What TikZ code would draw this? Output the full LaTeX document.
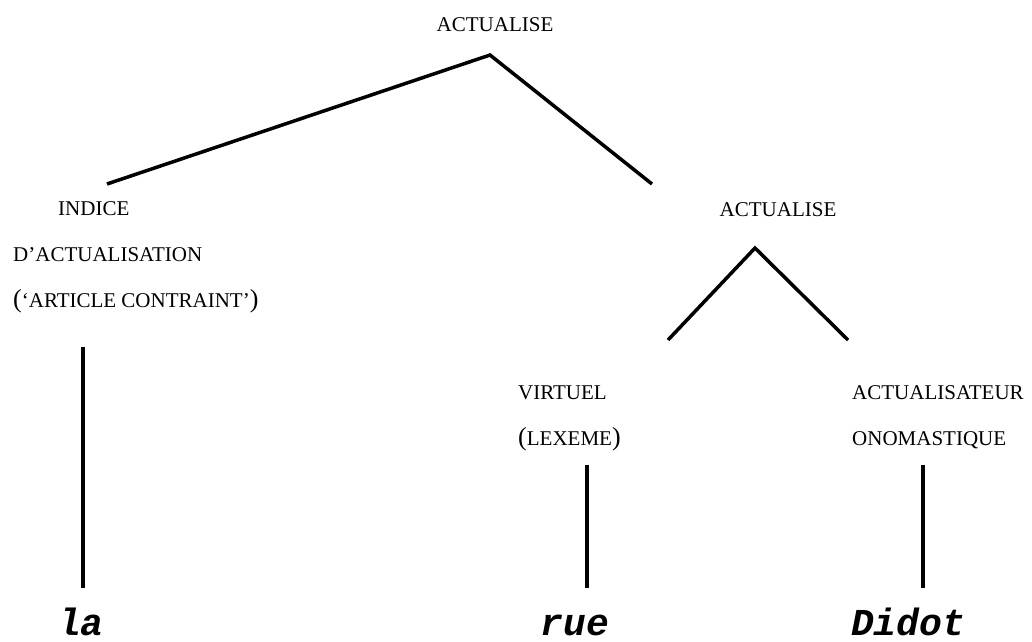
\documentclass[tikz,border=0pt]{standalone}
\usepackage{fontspec}
\setmainfont{Liberation Serif}
\setmonofont{Liberation Mono}
% parentheses set larger than the small-capital letters
\newcommand\lpar{{\fontsize{26}{30}\selectfont(}}
\newcommand\rpar{{\fontsize{26}{30}\selectfont)}}
\begin{document}
\begin{tikzpicture}[x=1pt,y=-1pt,
  lab/.style={inner sep=0pt, font=\fontsize{21}{25}\selectfont},
  word/.style={inner sep=0pt, font=\fontsize{38}{44}\selectfont\ttfamily\bfseries\itshape},
  edge/.style={line width=3.5pt, line join=miter}]
\useasboundingbox (0,0) rectangle (1032,641);

% labels
\node[lab, anchor=base] (root) at (495,31) {ACTUALISE};
\node[lab, anchor=base west] (ind1) at (58,215) {INDICE};
\node[lab, anchor=base west] (ind2) at (13,261) {D’ACTUALISATION};
\node[lab, anchor=base west] (ind3) at (13,307) {\lpar‘ARTICLE CONTRAINT’\rpar};
\node[lab, anchor=base] (act) at (778,216) {ACTUALISE};
\node[lab, anchor=base west] (vir1) at (518,399) {VIRTUEL};
\node[lab, anchor=base west] (vir2) at (518,445) {\lpar LEXEME\rpar};
\node[lab, anchor=base west] (ono1) at (852,399) {ACTUALISATEUR};
\node[lab, anchor=base west] (ono2) at (852,445) {ONOMASTIQUE};

% words of the phrase
\node[word, anchor=base] (la) at (81,635) {la};
\node[word, anchor=base] (rue) at (575,635) {rue};
\node[word, anchor=base] (didot) at (908,635) {Didot};

% branch end points
\coordinate (rootJ) at (490,55);
\coordinate (indJ) at (107,184);
\coordinate (actJ) at (652,184);
\coordinate (actB) at (755,248);
\coordinate (virJ) at (668,340);
\coordinate (onoJ) at (848,340);
\coordinate (indB) at (83,347);
\coordinate (laT) at (83,588);
\coordinate (virB) at (587,465);
\coordinate (rueT) at (587,588);
\coordinate (onoB) at (923,465);
\coordinate (didT) at (923,588);

% branches
\draw[edge] (indJ) -- (rootJ) -- (actJ);
\draw[edge] (virJ) -- (actB) -- (onoJ);
\draw[edge] (indB) -- (laT);
\draw[edge] (virB) -- (rueT);
\draw[edge] (onoB) -- (didT);
\end{tikzpicture}
\end{document}
